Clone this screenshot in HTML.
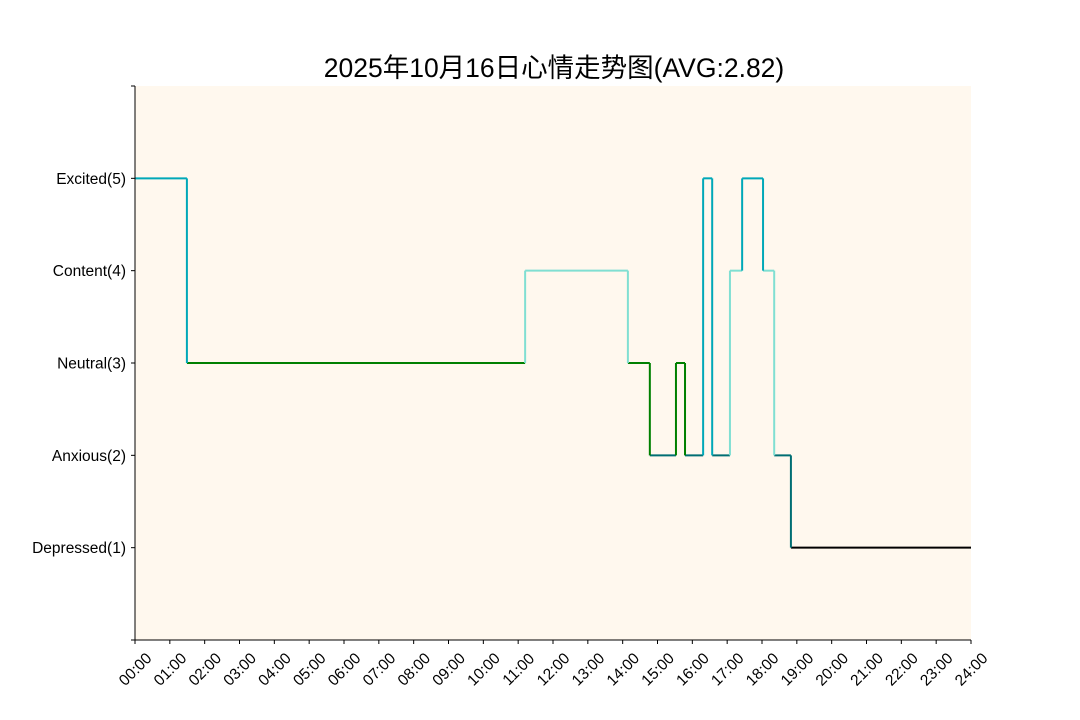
<!DOCTYPE html>
<html><head><meta charset="utf-8"><style>
html,body{margin:0;padding:0;background:#fff;}
svg{display:block;font-family:"Liberation Sans","Noto Sans CJK SC",sans-serif;}
</style></head><body>
<svg id="chart" width="1080" height="720">
<rect x="0" y="0" width="1080" height="720" fill="#fff"/>
<text x="554" y="77" text-anchor="middle" font-size="26.5" fill="#000">2025年10月16日心情走势图(AVG:2.82)</text>
<rect x="135" y="86" width="836" height="554" fill="#fff8ee"/>
<g id="marks"></g>
<g id="axes"></g>
</svg>
<script>
const levelLabels = ["", "Depressed(1)", "Anxious(2)", "Neutral(3)", "Content(4)", "Excited(5)", ""];
const levelColors = ["#000", "#000000", "#006e73", "#008000", "#80dfd2", "#00a8b8"];
const startHours = [0, 1.49, 11.2, 14.15, 14.78, 15.53, 15.79, 16.31, 16.57, 17.08, 17.43, 18.03, 18.35, 18.83];
const moodLevels = [5, 3, 4, 3, 2, 3, 2, 5, 2, 4, 5, 4, 2, 1];
const endHour = 24;
const xTickLabels = [];
for (let h = 0; h <= 24; h++) xTickLabels.push(String(h).padStart(2, "0") + ":00");

const X0 = 135, X1 = 971, Y0 = 640, Y1 = 86;
function xs(h) { return X0 + (X1 - X0) * h / 24; }
function ys(v) { return Y0 - (Y0 - Y1) * v / 6; }
const NS = "http://www.w3.org/2000/svg";
function mk(tag, attrs, parent) {
  const e = document.createElementNS(NS, tag);
  for (const k in attrs) e.setAttribute(k, attrs[k]);
  parent.appendChild(e);
  return e;
}
const marks = document.getElementById("marks");
const axes = document.getElementById("axes");

for (let i = 0; i < startHours.length; i++) {
  const s = startHours[i];
  const e = i + 1 < startHours.length ? startHours[i + 1] : endHour;
  const lv = moodLevels[i];
  const seg = mk("line", {x1: xs(s), x2: xs(e), y1: ys(lv), y2: ys(lv), stroke: levelColors[lv], "stroke-width": 2}, marks);
  
  
}
for (let i = 1; i < startHours.length; i++) {
  const a = moodLevels[i - 1], b = moodLevels[i];
  const hi = Math.max(a, b);
  const v = mk("line", {x1: xs(startHours[i]), x2: xs(startHours[i]), y1: ys(a), y2: ys(b), stroke: levelColors[hi], "stroke-width": 2}, marks);
  
  
}

const ya = mk("line", {x1: X0, x2: X0, y1: Y1, y2: Y0, stroke: "#000", "stroke-width": 1}, axes);


const xa = mk("line", {x1: X0, x2: X1, y1: Y0, y2: Y0, stroke: "#000", "stroke-width": 1}, axes);



for (let v = 0; v < levelLabels.length; v++) {
  const y = ys(v);
  const t = mk("line", {x1: X0 - 4, x2: X0, y1: y, y2: y, stroke: "#000", "stroke-width": 1}, axes);
  
  
  if (levelLabels[v]) {
    const tx = mk("text", {x: X0 - 9, y: y + 5.5, "text-anchor": "end", "font-size": 15.5, fill: "#000"}, axes);
    tx.textContent = levelLabels[v];
    
    
  }
}
for (let h = 0; h < xTickLabels.length; h++) {
  const x = xs(h);
  const t = mk("line", {x1: x, x2: x, y1: Y0, y2: Y0 + 4, stroke: "#000", "stroke-width": 1}, axes);
  
  
  const cy = 669;
  const tx = mk("text", {x: x, y: cy + 5.5, "text-anchor": "middle", "font-size": 15.5, fill: "#000", transform: "rotate(-45 " + x + " " + cy + ")"}, axes);
  tx.textContent = xTickLabels[h];
  
  
}
</script>
</body></html>
